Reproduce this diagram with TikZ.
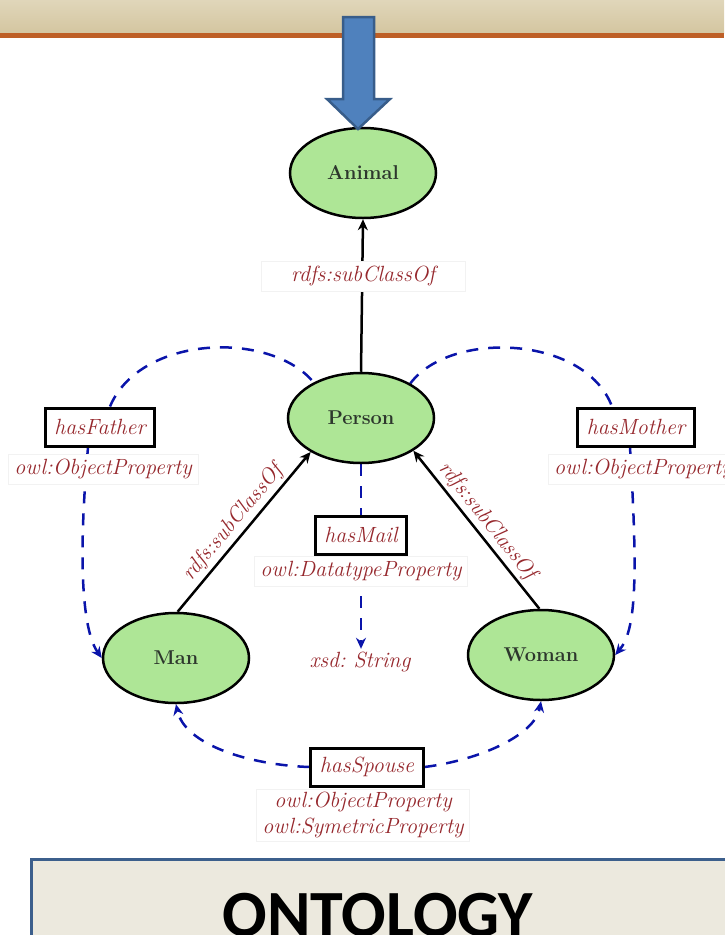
\documentclass[tikz,border=0pt]{standalone}
\usepackage{fontspec}
\newfontfamily\carlito{Carlito}
\usetikzlibrary{arrows.meta,shapes.geometric,backgrounds}
\definecolor{bandtop}{RGB}{224,214,186}
\definecolor{bandbot}{RGB}{212,198,160}
\definecolor{bandline}{RGB}{190,95,38}
\definecolor{arrowfill}{RGB}{79,129,189}
\definecolor{arrowdraw}{RGB}{56,93,138}
\definecolor{clsgreen}{RGB}{174,230,150}
\definecolor{clstext}{RGB}{45,55,45}
\definecolor{lblred}{RGB}{150,40,45}
\definecolor{lineblue}{RGB}{10,20,170}
\definecolor{boxblue}{RGB}{60,95,140}
\definecolor{boxfill}{RGB}{236,233,222}
\tikzset{
  cls/.style={ellipse, draw=black, line width=2.5pt, fill=clsgreen, minimum width=146pt, minimum height=90pt, font=\bfseries\fontsize{20}{24}\selectfont, text=clstext, inner sep=0pt},
  propbox/.style={draw=black, line width=3pt, fill=white, font=\itshape\fontsize{22}{26}\selectfont, text=lblred, minimum height=38pt, inner xsep=9pt, inner ysep=0pt},
  lbl/.style={fill=white, draw=black!5, font=\itshape\fontsize{22}{26}\selectfont, text=lblred, inner xsep=6pt, inner ysep=5pt},
  lbltext/.style={font=\itshape\fontsize{22}{26}\selectfont, text=lblred, inner sep=3pt},
  propline/.style={draw=lineblue, line width=2.5pt, dash pattern=on 12pt off 10pt},
  subline/.style={draw=black, line width=2.5pt},
  arrowend/.style={-{Stealth[length=11pt,width=10pt]}}
}
\begin{document}
\begin{tikzpicture}[x=1pt,y=-1pt]
\useasboundingbox (0,0) rectangle (724,935);
% top band
\shade[top color=bandtop, bottom color=bandbot] (0,0) rectangle (724,33);
\fill[bandline] (0,33) rectangle (724,38);
% bottom box
\draw[draw=boxblue, line width=3pt, fill=boxfill] (31,859) rectangle (760,980);
\node[font=\carlito\bfseries\fontsize{66}{72}\selectfont, anchor=base, inner sep=0pt] (ont) at (378,936) {ONTOLOGY};

% classes
\node[cls] (animal) at (363,173) {Animal};
\node[cls] (person) at (361,418) {Person};
\node[cls] (man) at (176,658) {Man};
\node[cls] (woman) at (541,655) {Woman};

% labels and properties
\node[lbl, inner xsep=30pt] (sub1) at (363,276) {rdfs:subClassOf};
\node[propbox] (father) at (100,427) {hasFather};
\node[lbl] (fatherT) at (103,469) {owl:ObjectProperty};
\node[propbox] (mother) at (636,427) {hasMother};
\node[lbl, anchor=west] (motherT) at (548,469) {owl:ObjectProperty};
\node[propbox] (mail) at (361,535) {hasMail};
\node[lbl] (mailT) at (361,571) {owl:DatatypeProperty};
\node[lbltext] (xsd) at (360,662) {xsd:\ String};
\node[propbox] (spouse) at (367,767) {hasSpouse};
\node[lbl, align=center, inner ysep=3pt] (spouseT) at (363,815) {owl:ObjectProperty\\owl:SymetricProperty};

% connectors
\begin{scope}[on background layer]
  \draw[subline, arrowend] (person.north) -- (animal.south);
  \draw[subline, arrowend] (man.88) -- node[sloped, above, lbltext] (sub2) {rdfs:subClassOf} (person.214);
  \draw[subline, arrowend] (woman.92) -- node[sloped, above, lbltext] (sub3) {rdfs:subClassOf} (person.-32);
  \draw[propline] ([xshift=10pt]father.north) .. controls (140,335) and (270,330) .. (person.143);
  \draw[propline, arrowend] ([xshift=-12pt]father.south) .. controls (78,560) and (82,630) .. (man.180);
  \draw[propline] (person.35) .. controls (450,330) and (585,335) .. ([xshift=-24pt]mother.north);
  \draw[propline, arrowend] ([xshift=-6pt]mother.south) .. controls (638,580) and (636,630) .. (woman.0);
  \draw[propline, arrowend] (person.south) -- (person.south |- xsd.north);
  \draw[propline, arrowend] (spouse.west) .. controls (250,765) and (185,745) .. (man.south);
  \draw[propline, arrowend] (spouse.east) .. controls (480,760) and (535,735) .. (woman.south);
\end{scope}

% blue block arrow
\draw[draw=arrowdraw, line width=2.5pt, fill=arrowfill, line join=miter]
  (343,17) -- (374,17) -- (374,99) -- (390,99) -- (358,129) -- (327,99) -- (343,99) -- cycle;
\end{tikzpicture}
\end{document}
